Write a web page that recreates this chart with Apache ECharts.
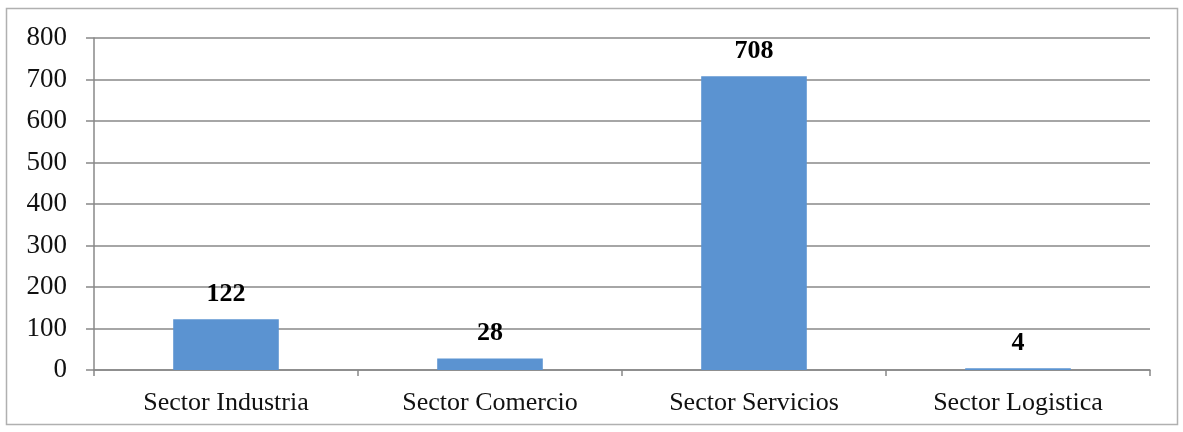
<!DOCTYPE html>
<html><head><meta charset="utf-8">
<script src="https://cdn.jsdelivr.net/npm/echarts@6/dist/echarts.min.js"></script>
<style>html,body{margin:0;padding:0;background:#fff}#c{width:1183px;height:432px}</style>
</head><body><div id="c"></div>
<script>
const categories = ['Sector Industria','Sector Comercio','Sector Servicios','Sector Logistica'];
const values = [122, 28, 708, 4];
const yTicks = {min:0, max:800, interval:100};

const chart = echarts.init(document.getElementById('c'));
const font = '"Liberation Serif","Times New Roman",serif';
chart.setOption({
  animation:false,
  graphic:[{type:'rect',shape:{x:6.5,y:8.5,width:1171,height:416},style:{fill:'none',stroke:'#b0b0b0',lineWidth:1.5},silent:true}],
  grid:{left:94,right:33,top:38,bottom:62},
  xAxis:{type:'category',data:categories,
    axisLine:{lineStyle:{color:'#888',width:1.5}},
    axisTick:{show:true,length:6,lineStyle:{color:'#888',width:1.5}},
    axisLabel:{color:'#111',fontFamily:font,fontSize:26,margin:20}},
  yAxis:{type:'value',min:yTicks.min,max:yTicks.max,interval:yTicks.interval,
    axisLine:{show:true,lineStyle:{color:'#888',width:1.5}},
    axisTick:{show:true,length:8,lineStyle:{color:'#888',width:1.5}},
    splitLine:{lineStyle:{color:'#888',width:1.5}},
    axisLabel:{color:'#111',fontFamily:font,fontSize:27,margin:27}},
  series:[{type:'bar',data:values,barWidth:'40%',
    itemStyle:{color:'#5b93d1'},
    label:{show:true,position:'top',distance:12,color:'#000',fontFamily:font,fontWeight:'bold',fontSize:26}}]
});
</script></body></html>
